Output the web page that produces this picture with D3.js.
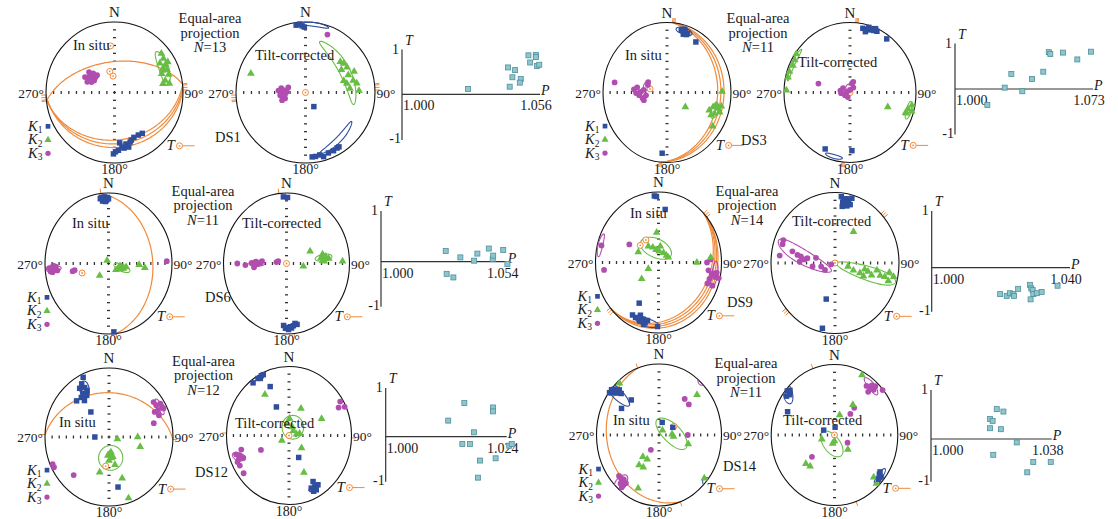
<!DOCTYPE html>
<html>
<head>
<meta charset="utf-8">
<script src="https://cdn.jsdelivr.net/npm/d3@7"></script>
<style>
body { margin: 0; background: #fff; }
svg text { font-family: 'Liberation Serif', 'Times New Roman', serif; fill: #1a1a1a; }
</style>
</head>
<body>
<svg id="chart"></svg>
<script>
let width = 1118;
let height = 519;

// ---- data: directions are [trend, plunge] in degrees (lower hemisphere) ----
// DS1
const ds1GeoK1 = [[181,14],[176,19],[172,23],[167,26],[162,27],[156,31],[150,31],[145,30],[174,29],[165,21],[179,17],[170,21],[160,29]];
const ds1GeoK2 = [[51,13],[56,15],[58,23],[62,17],[64,22],[67,18],[69,27],[72,18],[77,25],[81,20],[80,29],[61,12],[66,24]];
const ds1GeoK3 = [[297,50],[298,55],[305,54],[311,56],[308,61],[291,55],[294,60],[300,62],[308,51],[314,61],[302,57],[296,58],[306,58]];
const ds1GeoPoles = [[355,34],[347,65],[355,71]];
const ds1Planes = [[353,54],[174,33],[176,28],[178,23]];   // [dip direction, dip]
const ds1TiltK1 = [[352,4],[357,6],[359,8],[355,3],[174,9],[171,9],[167,10],[159,9],[154,9],[150,10],[148,10],[164,6],[149,71]];
const ds1TiltK2 = [[49,34],[53,32],[59,31],[58,39],[68,34],[73,42],[76,30],[80,26],[85,36],[88,24],[78,39],[67,25],[289,18]];
const ds1TiltK3 = [[274,58],[280,61],[268,64],[272,68],[264,60],[254,65],[286,69],[252,61],[21,13],[270,62],[262,63],[276,64],[266,66]];
const ds1GeoCones = [{k: 2, m: [64,21], a: 17, b: 7, phi: -11}];
const ds1TiltCones = [{k: 1, m: [145,19], a: 22, b: 4, phi: 15}, {k: 1, m: [8,3], a: 12, b: 3, phi: 0}, {k: 2, m: [59,36], a: 38, b: 7, phi: -3}];
const ds1P = [1.0268,1.043,1.0459,1.0448,1.0482,1.0478,1.0437,1.0513,1.0543,1.0543,1.052,1.0548,1.0557];
const ds1T = [0.12,0.6,0.54,0.38,0.34,0.26,0.17,0.87,0.88,0.83,0.71,0.63,0.66];

// DS3
const ds3GeoK1 = [[14,9],[17,10],[19,11],[21,11],[17,14],[17,6],[32,16],[185,14],[15,8],[20,13],[18,9]];
const ds3GeoK2 = [[111,30],[106,26],[103,22],[106,18],[112,21],[115,25],[109,14],[103,14],[126,61],[124,15],[89,15]];
const ds3GeoK3 = [[275,47],[279,51],[271,56],[276,60],[263,63],[258,58],[265,54],[290,64],[297,63],[269,50],[280,18],[253,59]];
const ds3GeoPoles = [[281,68]];
const ds3Planes = [[95,22],[96,17],[97,12]];
const ds3TiltK1 = [[12,7],[16,7],[19,6],[22,5],[25,4],[15,11],[17,3],[23,1],[36,6],[205,12],[178,18]];
const ds3TiltK2 = [[304,2],[299,5],[294,6],[288,4],[283,4],[272,4],[109,12],[105,10],[101,5],[109,10],[110,39],[106,3]];
const ds3TiltK3 = [[281,78],[301,80],[281,86],[0,87],[36,83],[13,79],[243,83],[266,79],[207,84],[18,77],[285,49]];
const ds3GeoCones = [{k: 1, m: [17,9], a: 8, b: 5, phi: 0}, {k: 2, m: [109,22], a: 8, b: 5, phi: 0}, {k: 3, m: [285,62], a: 5, b: 3, phi: 0}];
const ds3TiltCones = [{k: 1, m: [195,6], a: 8, b: 3, phi: 0}, {k: 2, m: [295,5], a: 15, b: 3, phi: 0}, {k: 2, m: [106,8], a: 8, b: 4, phi: 0}, {k: 3, m: [0,84], a: 5, b: 4, phi: 0}];
const ds3P = [1.0171,1.0263,1.0298,1.0356,1.0407,1.0467,1.0496,1.0504,1.0571,1.0647,1.0719];
const ds3T = [-0.35,0.03,0.33,-0.05,0.22,0.38,0.81,0.77,0.8,0.65,0.82];

// DS6
const ds6GeoK1 = [[353,6],[356,6],[357,10],[354,12],[357,13],[359,7],[175,3],[355,9],[358,11],[352,8],[0,9]];
const ds6GeoK2 = [[333,86],[219,72],[127,78],[109,75],[101,74],[107,70],[100,67],[92,50],[96,42],[112,73],[104,76]];
const ds6GeoK3 = [[266,7],[263,9],[264,15],[267,18],[263,20],[262,12],[259,42],[260,45],[88,9],[265,11],[268,14]];
const ds6GeoPoles = [[252,54]];
const ds6Planes = [[83,31]];
const ds6TiltK1 = [[357,6],[1,7],[181,9],[179,10],[176,11],[173,12],[171,15],[169,13],[183,13],[178,7],[175,9]];
const ds6TiltK2 = [[82,44],[80,40],[84,38],[84,33],[87,40],[77,41],[65,56],[98,68],[88,12],[81,37],[86,42]];
const ds6TiltK3 = [[271,44],[273,50],[269,52],[271,56],[264,47],[275,58],[270,23],[268,35],[277,77],[284,79],[272,48]];
const ds6GeoCones = [{k: 2, m: [106,72], a: 11, b: 4, phi: 85}, {k: 3, m: [265,14], a: 12, b: 3, phi: 90}];
const ds6TiltCones = [{k: 2, m: [82,40], a: 12, b: 3.5, phi: 90}, {k: 3, m: [270,51], a: 11, b: 3, phi: 90}];
const ds6P = [1.0278,1.0341,1.0414,1.04,1.0463,1.048,1.0482,1.0525,1.0282,1.0311,1.0543];
const ds6T = [0.21,0.085,0.16,0.02,0.26,0.05,0.12,0.23,-0.27,-0.35,-0.05];

// DS9
const ds9GeoK1 = [[356,6],[358,7],[8,25],[208,35],[209,16],[205,15],[200,13],[197,17],[194,13],[192,17],[195,10],[181,10],[201,21],[198,14]];
const ds9GeoK2 = [[356,55],[325,67],[337,71],[348,75],[4,77],[30,77],[52,77],[295,61],[241,75],[229,61],[90,39],[85,18],[65,76],[7,71]];
const ds9GeoK3 = [[285,7],[299,46],[263,14],[90,24],[87,18],[98,21],[101,15],[103,9],[99,7],[106,17],[111,18],[111,9],[103,2],[100,12]];
const ds9GeoPoles = [[328,59],[310,59]];
const ds9Planes = [[140,10],[140,14],[138,18],[136,22]];
const ds9TiltK1 = [[6,6],[10,10],[13,11],[8,14],[16,15],[13,18],[16,5],[8,20],[195,46],[192,6],[11,8],[14,13],[9,12],[12,16]];
const ds9TiltK2 = [[33,46],[104,73],[110,65],[110,56],[101,51],[103,46],[107,40],[99,34],[104,28],[104,21],[99,15],[102,7],[113,50],[107,14]];
const ds9TiltK3 = [[292,14],[288,15],[284,32],[281,40],[280,45],[272,44],[276,50],[279,54],[262,61],[284,65],[257,72],[238,75],[252,85],[277,14]];
const ds9GeoCones = [{k: 1, m: [193,14], a: 13, b: 6, phi: -10}, {k: 2, m: [349,73], a: 21, b: 11, phi: -33}, {k: 3, m: [285,5], a: 10, b: 4, phi: 0}, {k: 3, m: [101,10], a: 12, b: 5, phi: 0}];
const ds9TiltCones = [{k: 2, m: [106,45], a: 43, b: 7.5, phi: 90}, {k: 3, m: [280,47], a: 41, b: 8, phi: 75}];
const ds9P = [1.0198,1.0217,1.0226,1.0236,1.0238,1.025,1.0284,1.0288,1.0292,1.0294,1.0286,1.0304,1.0318,1.0364];
const ds9T = [-0.6,-0.64,-0.58,-0.6,-0.64,-0.48,-0.39,-0.47,-0.51,-0.6,-0.72,-0.58,-0.55,-0.41];

// DS12
const ds12GeoK1 = [[335,5],[331,13],[332,20],[327,17],[333,25],[327,26],[330,31],[323,29],[324,35],[316,28],[322,52],[270,72],[169,27]];
const ds12GeoK2 = [[184,68],[178,70],[173,65],[180,62],[168,66],[172,72],[167,56],[103,79],[90,53],[106,48],[196,46],[161,37],[161,7]];
const ds12GeoK3 = [[54,15],[58,14],[59,7],[62,7],[63,15],[64,6],[63,21],[68,17],[74,28],[246,4],[243,4],[225,23]];
const ds12GeoPoles = [[187,55]];
const ds12Planes = [[2,36]];
const ds12TiltK1 = [[323,5],[329,4],[333,3],[335,3],[331,6],[337,24],[334,52],[154,61],[150,24],[151,16],[151,11],[155,17],[147,16],[154,11]];
const ds12TiltK2 = [[327,30],[26,54],[65,42],[2,70],[23,79],[81,80],[80,76],[238,79],[132,68],[156,41],[45,82],[350,76]];
const ds12TiltK3 = [[252,12],[247,14],[255,22],[245,10],[246,21],[241,11],[233,10],[245,49],[59,5],[63,12],[65,2],[250,17]];
const ds12GeoCones = [{k: 1, m: [331,22], a: 12, b: 5, phi: 80}, {k: 2, m: [175,65], a: 15, b: 15, phi: 0}, {k: 3, m: [61,10], a: 8, b: 4, phi: 0}];
const ds12TiltCones = [{k: 1, m: [152,15], a: 6, b: 4, phi: 0}, {k: 2, m: [27,79], a: 14, b: 14, phi: 0}, {k: 3, m: [249,15], a: 10, b: 4, phi: 70}];
const ds12P = [1.0156,1.0213,1.0213,1.0124,1.0175,1.0152,1.0167,1.0245,1.025,1.0187,1.0218,1.0183];
const ds12T = [0.69,0.6,0.52,0.33,0.09,-0.16,-0.16,-0.2,-0.16,-0.53,-0.48,-0.91];

// DS14
const ds14GeoK1 = [[307,1],[308,4],[312,4],[311,11],[315,11],[314,17],[310,1],[318,34],[302,30],[16,75],[64,70]];
const ds14GeoK2 = [[319,4],[47,18],[40,83],[87,73],[95,71],[105,50],[220,57],[209,58],[217,46],[209,47],[204,19],[130,6]];
const ds14GeoK3 = [[39,35],[48,36],[212,70],[90,52],[228,15],[225,15],[222,12],[222,17],[222,9],[219,10],[218,15],[219,6]];
const ds14GeoPoles = [[63,68]];
const ds14Planes = [[250,18]];
const ds14TiltK1 = [[310,3],[309,10],[312,6],[306,7],[294,20],[292,75],[5,81],[128,11],[129,6],[132,7],[126,12]];
const ds14TiltK2 = [[27,5],[34,47],[16,66],[253,73],[194,80],[180,83],[134,66],[228,39],[221,41],[136,5],[134,15]];
const ds14TiltK3 = [[36,15],[40,14],[44,12],[41,20],[43,6],[40,9],[50,1],[39,49],[40,58],[118,71],[229,51]];
const ds14GeoCones = [{k: 1, m: [311,15], a: 22, b: 5, phi: 90}, {k: 2, m: [84,73], a: 25, b: 11, phi: 45}, {k: 3, m: [222,10], a: 14, b: 5, phi: 90}];
const ds14TiltCones = [{k: 1, m: [308,8], a: 12, b: 5, phi: 70}, {k: 1, m: [129,8], a: 8, b: 4, phi: 0}, {k: 2, m: [198,79], a: 18, b: 10, phi: -30}, {k: 3, m: [40,10], a: 10, b: 5, phi: -20}];
const ds14P = [1.0207,1.0228,1.0186,1.0194,1.0186,1.022,1.027,1.0196,1.0322,1.0377,1.0303];
const ds14T = [0.61,0.56,0.41,0.37,0.22,0.2,-0.08,-0.37,-0.54,-0.54,-0.78];

const siteNames = ['DS1', 'DS3', 'DS6', 'DS9', 'DS12', 'DS14'];
const siteN = [13, 11, 11, 14, 12, 11];
const pMaxLabels = ['1.056', '1.073', '1.054', '1.040', '1.024', '1.038'];

const sites = [
    {geo: [ds1GeoK1, ds1GeoK2, ds1GeoK3], tilt: [ds1TiltK1, ds1TiltK2, ds1TiltK3], geoCones: ds1GeoCones, tiltCones: ds1TiltCones, poles: ds1GeoPoles, planes: ds1Planes, P: ds1P, T: ds1T},
    {geo: [ds3GeoK1, ds3GeoK2, ds3GeoK3], tilt: [ds3TiltK1, ds3TiltK2, ds3TiltK3], geoCones: ds3GeoCones, tiltCones: ds3TiltCones, poles: ds3GeoPoles, planes: ds3Planes, P: ds3P, T: ds3T},
    {geo: [ds6GeoK1, ds6GeoK2, ds6GeoK3], tilt: [ds6TiltK1, ds6TiltK2, ds6TiltK3], geoCones: ds6GeoCones, tiltCones: ds6TiltCones, poles: ds6GeoPoles, planes: ds6Planes, P: ds6P, T: ds6T},
    {geo: [ds9GeoK1, ds9GeoK2, ds9GeoK3], tilt: [ds9TiltK1, ds9TiltK2, ds9TiltK3], geoCones: ds9GeoCones, tiltCones: ds9TiltCones, poles: ds9GeoPoles, planes: ds9Planes, P: ds9P, T: ds9T},
    {geo: [ds12GeoK1, ds12GeoK2, ds12GeoK3], tilt: [ds12TiltK1, ds12TiltK2, ds12TiltK3], geoCones: ds12GeoCones, tiltCones: ds12TiltCones, poles: ds12GeoPoles, planes: ds12Planes, P: ds12P, T: ds12T},
    {geo: [ds14GeoK1, ds14GeoK2, ds14GeoK3], tilt: [ds14TiltK1, ds14TiltK2, ds14TiltK3], geoCones: ds14GeoCones, tiltCones: ds14TiltCones, poles: ds14GeoPoles, planes: ds14Planes, P: ds14P, T: ds14T}
];

// ---- layout (page pixels) ----
const layout = [
    {geo: {cx: 114.5, cy: 92.5, rx: 68.5, ry: 70.5}, tilt: {cx: 305.5, cy: 92.5, rx: 69.5, ry: 70.5},
     pt: {x0: 402, x1: 540, yTop: 49.5, yZero: 94.3, yBot: 140}, head: [210, 23], insitu: [73, 50], tc: [255, 60], ds: [215, 142], tcT: false},
    {geo: {cx: 667, cy: 92.5, rx: 64, ry: 70}, tilt: {cx: 850, cy: 92.5, rx: 66, ry: 70},
     pt: {x0: 955, x1: 1093, yTop: 43.5, yZero: 89, yBot: 134.5}, head: [758, 23], insitu: [625, 60], tc: [798, 67], ds: [741, 145], tcT: true},
    {geo: {cx: 108.5, cy: 263.5, rx: 63.5, ry: 70.5}, tilt: {cx: 286.5, cy: 263.5, rx: 63, ry: 70.5},
     pt: {x0: 381, x1: 506.7, yTop: 211, yZero: 261.7, yBot: 306.7}, head: [203, 195.5], insitu: [72, 228], tc: [242, 228], ds: [205, 302], tcT: true},
    {geo: {cx: 658.5, cy: 262.5, rx: 63, ry: 70.5}, tilt: {cx: 835, cy: 263, rx: 64, ry: 70.5},
     pt: {x0: 931.7, x1: 1070, yTop: 211, yZero: 267.7, yBot: 311.7}, head: [747, 195.5], insitu: [630, 218], tc: [792, 226], ds: [727, 307], tcT: true},
    {geo: {cx: 109, cy: 437, rx: 64, ry: 69}, tilt: {cx: 289, cy: 435.5, rx: 62.5, ry: 69},
     pt: {x0: 385.7, x1: 506.7, yTop: 388, yZero: 436.7, yBot: 481.7}, head: [203.5, 365.5], insitu: [59, 427], tc: [235, 428], ds: [195, 477], tcT: true},
    {geo: {cx: 659, cy: 435, rx: 62.5, ry: 71}, tilt: {cx: 834.5, cy: 435, rx: 63.3, ry: 70.5},
     pt: {x0: 931, x1: 1051.7, yTop: 390, yZero: 439, yBot: 481.7}, head: [746, 368], insitu: [613, 425], tc: [783, 425], ds: [723, 471], tcT: true}
];

const colors = ['#2f4e9e', '#68bd45', '#b24db0'];
const orange = '#f08a3a';
const rad = Math.PI / 180;

let svg = d3.select('#chart')
    .attr('width', width)
    .attr('height', height);

svg.append('rect').attr('width', width).attr('height', height).attr('fill', '#fff');

// equal-area (Schmidt) projection of a direction onto the unit disc
function project(d) {
    let r = Math.SQRT2 * Math.sin((90 - d[1]) / 2 * rad);
    return [r * Math.sin(d[0] * rad), r * Math.cos(d[0] * rad)];
}

function toTP(w) {
    let t = Math.atan2(w[0], w[1]) / rad;
    let p = Math.asin(Math.max(-1, Math.min(1, w[2]))) / rad;
    return [(t + 360) % 360, p];
}

function greatCircle(pl) {
    let pts = [];
    for (let t = -90; t <= 90; t += 2) {
        let p = Math.atan(Math.tan(pl[1] * rad) * Math.cos(t * rad)) / rad;
        pts.push([pl[0] + t, Math.max(0, p)]);
    }
    return pts;
}

// confidence cone around a mean direction, split where it crosses the horizontal
function cone(e) {
    let t = e.m[0] * rad, p = e.m[1] * rad;
    let v = [Math.cos(p) * Math.sin(t), Math.cos(p) * Math.cos(t), Math.sin(p)];
    let er = [Math.sin(p) * Math.sin(t), Math.sin(p) * Math.cos(t), -Math.cos(p)];
    let et = [Math.cos(t), -Math.sin(t), 0];
    let f = e.phi * rad;
    let mj = et.map((d, i) => Math.cos(f) * d + Math.sin(f) * er[i]);
    let mn = et.map((d, i) => -Math.sin(f) * d + Math.cos(f) * er[i]);
    let segs = [[]];
    let prevUp = null;
    for (let k = 0; k <= 144; k++) {
        let s = k / 144 * 2 * Math.PI;
        let al = e.a * rad * Math.cos(s), be = e.b * rad * Math.sin(s);
        let rho = Math.hypot(al, be);
        let u = mj.map((d, i) => (al * d + be * mn[i]) / rho);
        let w = v.map((d, i) => Math.cos(rho) * d + Math.sin(rho) * u[i]);
        let up = w[2] < 0;
        if (up) w = w.map(d => -d);
        if (prevUp !== null && up !== prevUp) segs.push([]);
        prevUp = up;
        segs[segs.length - 1].push(toTP(w));
    }
    return segs;
}

function drawNet(L, dirs, cones, poles, planes, strikes, label) {
    let g = svg.append('g');
    let sx = d3.scaleLinear().domain([-1, 1]).range([L.cx - L.rx, L.cx + L.rx]);
    let sy = d3.scaleLinear().domain([-1, 1]).range([L.cy + L.ry, L.cy - L.ry]);
    let line = d3.line()
        .x(d => sx(project(d)[0]))
        .y(d => sy(project(d)[1]));

    // cross of small ticks
    let ticks = d3.range(-8, 9).map(i => i / 9);
    g.selectAll('.tv').data(ticks).enter().append('line')
        .attr('x1', L.cx - 1.5).attr('x2', L.cx + 1.5)
        .attr('y1', d => sy(d)).attr('y2', d => sy(d))
        .attr('stroke', '#333').attr('stroke-width', 1.3);
    g.selectAll('.th').data(ticks).enter().append('line')
        .attr('y1', L.cy - 1.5).attr('y2', L.cy + 1.5)
        .attr('x1', d => sx(d)).attr('x2', d => sx(d))
        .attr('stroke', '#333').attr('stroke-width', 1.3);

    // bedding great circles
    g.selectAll('.gc').data(planes).enter().append('path')
        .attr('d', d => line(greatCircle(d)))
        .attr('fill', 'none').attr('stroke', orange).attr('stroke-width', 1.2);

    // strike ticks on the primitive
    g.selectAll('.st').data(strikes).enter().append('line')
        .attr('x1', d => sx(Math.sin(d * rad))).attr('y1', d => sy(Math.cos(d * rad)))
        .attr('x2', d => sx(1.07 * Math.sin(d * rad))).attr('y2', d => sy(1.07 * Math.cos(d * rad)))
        .attr('stroke', orange).attr('stroke-width', 1);

    g.append('ellipse')
        .attr('cx', L.cx).attr('cy', L.cy).attr('rx', L.rx).attr('ry', L.ry)
        .attr('fill', 'none').attr('stroke', '#111').attr('stroke-width', 1.1);

    // confidence ellipses
    cones.forEach(function (e) {
        cone(e).forEach(function (seg) {
            if (seg.length < 2) return;
            g.append('path').attr('d', line(seg))
                .attr('fill', 'none').attr('stroke', colors[e.k - 1]).attr('stroke-width', 1.1);
        });
    });

    // poles to bedding
    let pg = g.selectAll('.pole').data(poles).enter().append('g')
        .attr('transform', d => 'translate(' + sx(project(d)[0]) + ',' + sy(project(d)[1]) + ')');
    pg.append('circle').attr('r', 3).attr('fill', '#fff').attr('stroke', orange).attr('stroke-width', 1);
    pg.append('circle').attr('r', 0.9).attr('fill', orange);

    let shapes = [d3.symbolSquare, d3.symbolTriangle, d3.symbolCircle];
    let sizes = [30, 26, 26];
    [2, 1, 0].forEach(function (k) {
        g.selectAll('.k' + k).data(dirs[k]).enter().append('path')
            .attr('d', d3.symbol().type(shapes[k]).size(sizes[k]))
            .attr('transform', d => 'translate(' + sx(project(d)[0]) + ',' + sy(project(d)[1]) + ')')
            .attr('fill', colors[k]);
    });

    // compass labels
    g.append('text').attr('x', L.cx).attr('y', L.cy - L.ry - 5)
        .attr('text-anchor', 'middle').attr('font-size', 15).text('N');
    g.append('text').attr('x', L.cx).attr('y', L.cy + L.ry + 11)
        .attr('text-anchor', 'middle').attr('font-size', 14).text('180°');
    g.append('text').attr('x', L.cx - L.rx - 2).attr('y', L.cy + 5)
        .attr('text-anchor', 'end').attr('font-size', 13.5).text('270°');
    g.append('text').attr('x', L.cx + L.rx + 1.5).attr('y', L.cy + 5)
        .attr('text-anchor', 'start').attr('font-size', 13.5).text('90°');

    g.append('text').attr('x', label[0]).attr('y', label[1])
        .attr('font-size', 14.5).text(label[2]);
    return g;
}

function drawTSymbol(L) {
    let x = L.cx + L.rx * 0.76, y = L.cy + L.ry * 0.82;
    svg.append('text').attr('x', x).attr('y', y)
        .attr('font-size', 15).attr('font-style', 'italic').text('T');
    svg.append('circle').attr('cx', x + 13).attr('cy', y - 4.5).attr('r', 3)
        .attr('fill', '#fff').attr('stroke', orange);
    svg.append('circle').attr('cx', x + 13).attr('cy', y - 4.5).attr('r', 0.9).attr('fill', orange);
    svg.append('line').attr('x1', x + 16).attr('x2', x + 28)
        .attr('y1', y - 4.5).attr('y2', y - 4.5).attr('stroke', orange);
}

function drawLegend(L) {
    let x = L.cx - L.rx - 18;
    let shapes = [d3.symbolSquare, d3.symbolTriangle, d3.symbolCircle];
    ['1', '2', '3'].forEach(function (s, i) {
        let y = L.cy + 0.48 * L.ry + i * 13.5;
        let t = svg.append('text').attr('x', x).attr('y', y + 4.5).attr('font-size', 14.5);
        t.append('tspan').attr('font-style', 'italic').text('K');
        t.append('tspan').attr('font-size', 9.5).attr('dy', 2.5).text(s);
        svg.append('path').attr('d', d3.symbol().type(shapes[i]).size(22))
            .attr('transform', 'translate(' + (x + 20) + ',' + y + ')')
            .attr('fill', colors[i]);
    });
}

function drawPT(L, P, T, maxLabel) {
    let g = svg.append('g');
    let maxP = +maxLabel;
    let x = d3.scaleLinear().domain([1, maxP]).range([L.x0, L.x1]);
    let y = d3.scaleLinear().domain([-1, 0, 1]).range([L.yBot, L.yZero, L.yTop]);
    g.append('line').attr('x1', x(1)).attr('x2', x(1)).attr('y1', y(1)).attr('y2', y(-1))
        .attr('stroke', '#333').attr('stroke-width', 1.2);
    g.append('line').attr('x1', x(1)).attr('x2', x(maxP)).attr('y1', y(0)).attr('y2', y(0))
        .attr('stroke', '#333').attr('stroke-width', 1.2);
    g.append('text').attr('x', x(1) - 3).attr('y', y(1) + 4).attr('text-anchor', 'end')
        .attr('font-size', 14).text('1');
    g.append('text').attr('x', x(1) - 1).attr('y', y(-1) + 3).attr('text-anchor', 'end')
        .attr('font-size', 14).text('-1');
    g.append('text').attr('x', x(1) + 3).attr('y', y(1) - 5)
        .attr('font-size', 14).attr('font-style', 'italic').text('T');
    g.append('text').attr('x', x(maxP) + 1).attr('y', y(0) + 1)
        .attr('font-size', 14).attr('font-style', 'italic').text('P');
    g.append('text').attr('x', x(1) + 1).attr('y', y(0) + 16)
        .attr('font-size', 14).text('1.000');
    g.append('text').attr('x', x(maxP) - 4).attr('y', y(0) + 16).attr('text-anchor', 'middle')
        .attr('font-size', 14).text(maxLabel);
    g.selectAll('.pt').data(P).enter().append('rect')
        .attr('x', (d, i) => x(d) - 2.5).attr('y', (d, i) => y(T[i]) - 2.5)
        .attr('width', 5).attr('height', 5)
        .attr('fill', '#8ec6cd').attr('stroke', '#4f8f9a').attr('stroke-width', 0.8);
}

sites.forEach(function (s, i) {
    let L = layout[i];
    let strikes = [];
    s.planes.forEach(function (p) { strikes.push(p[0] - 90, p[0] + 90); });
    drawNet(L.geo, s.geo, s.geoCones, s.poles, s.planes, strikes, [L.insitu[0], L.insitu[1], 'In situ']);
    drawNet(L.tilt, s.tilt, s.tiltCones, [[0, 90]], [], strikes, [L.tc[0], L.tc[1], 'Tilt-corrected']);
    drawLegend(L.geo);
    drawTSymbol(L.geo);
    if (L.tcT) drawTSymbol(L.tilt);
    drawPT(L.pt, s.P, s.T, pMaxLabels[i]);

    let h = svg.append('text').attr('x', L.head[0]).attr('y', L.head[1])
        .attr('text-anchor', 'middle').attr('font-size', 14.5);
    h.append('tspan').attr('x', L.head[0]).text('Equal-area');
    h.append('tspan').attr('x', L.head[0]).attr('dy', 14.5).text('projection');
    let n = h.append('tspan').attr('x', L.head[0]).attr('dy', 14.5);
    n.append('tspan').attr('font-style', 'italic').text('N');
    n.append('tspan').text('=' + siteN[i]);

    svg.append('text').attr('x', L.ds[0]).attr('y', L.ds[1])
        .attr('font-size', 14.5).text(siteNames[i]);
});
</script>
</body>
</html>
